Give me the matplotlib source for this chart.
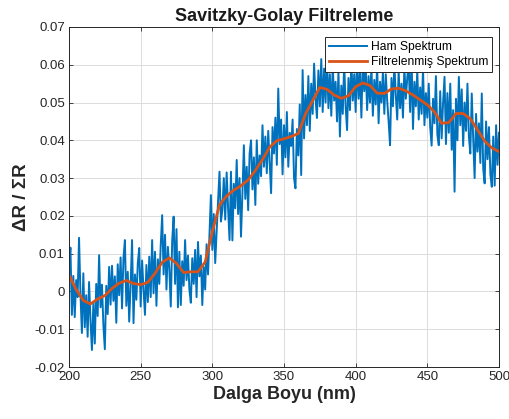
import numpy as np
import matplotlib
matplotlib.use("Agg")
import matplotlib.pyplot as plt

plt.rcParams['font.family'] = ['Liberation Sans', 'DejaVu Sans']

# Raw spectrum, one sample per nm (values x 1e-3)
wavelength = np.arange(200, 501)
ham_milli = [
    7.2, 11.6, -6.2, 4.1, -6.8, 3.0, -1.5, 14.2, -0.8, -11.0,
    4.8, -9.5, -1.0, -12.0, 2.5, -7.8, -15.5, -3.0, -13.8, 2.0,
    -6.5, 9.6, -4.2, 1.8, -9.0, -15.3, 1.5, -6.0, 6.5, -3.5,
    6.8, -2.5, 4.0, -8.3, 7.2, -1.0, 9.0, -4.5, 8.8, 13.6,
    -3.8, 5.2, -8.0, 2.0, 13.6, -8.4, 4.5, -2.2, 7.5, 11.5,
    -4.0, 8.2, 0.5, -6.2, 7.0, -2.8, 9.2, -1.5, 13.6, -0.5,
    10.5, -3.8, 8.5, 2.0, 12.2, 20.2, 4.5, 15.0, 0.5, 11.8,
    6.0, -4.0, 13.5, 19.8, 2.0, 16.5, -4.2, 10.5, -3.6, 8.0,
    1.5, 13.6, 3.0, 9.5, 0.5, -3.0, 8.8, 2.0, 11.0, -1.5,
    13.1, 4.0, 9.5, -3.6, 6.5, 0.5, 12.5, 4.5, 15.0, 25.5,
    11.0, 20.5, 7.5, 16.0, 24.0, 31.7, 18.5, 21.5, 30.0, 19.0,
    31.5, 22.0, 13.6, 31.7, 13.5, 28.5, 22.0, 34.8, 20.5, 30.0,
    14.5, 26.0, 38.7, 24.5, 33.0, 21.5, 36.5, 40.0, 27.0, 35.5,
    22.9, 40.0, 28.5, 36.0, 30.5, 44.0, 33.0, 41.0, 31.3, 42.5,
    34.0, 26.0, 43.5, 36.5, 46.0, 33.5, 53.7, 39.0, 45.5, 31.0,
    44.0, 35.5, 47.5, 33.0, 42.0, 38.5, 45.5, 30.0, 27.3, 43.0,
    36.0, 49.5, 30.8, 58.6, 40.5, 52.0, 44.0, 57.0, 42.5, 55.0,
    47.0, 60.3, 51.0, 45.9, 58.5, 49.0, 61.5, 47.5, 59.0, 50.0,
    62.0, 48.5, 57.5, 46.5, 60.0, 50.5, 55.5, 45.0, 58.5, 41.0,
    54.5, 47.0, 60.5, 49.0, 42.7, 56.5, 48.0, 61.0, 50.5, 57.5,
    47.5, 62.0, 51.0, 58.0, 46.0, 61.5, 53.0, 59.5, 48.0, 57.0,
    50.0, 59.5, 46.5, 56.0, 49.5, 60.0, 44.5, 55.5, 50.0, 58.0,
    47.0, 57.5, 50.5, 45.0, 38.7, 56.5, 49.0, 60.0, 52.0, 45.5,
    58.5, 48.5, 55.0, 46.0, 59.5, 51.0, 56.5, 60.5, 47.5, 62.0,
    43.0, 55.5, 49.0, 58.5, 45.5, 54.0, 47.0, 59.0, 44.0, 52.5,
    46.0, 55.0, 43.5, 38.6, 51.0, 44.5, 57.0, 41.5, 38.7, 53.0,
    40.5, 50.0, 56.8, 39.0, 52.5, 42.0, 55.0, 37.5, 48.0, 26.4,
    51.0, 40.0, 56.8, 44.0, 53.5, 38.5, 50.0, 42.5, 55.0, 41.0,
    36.5, 52.4, 40.5, 30.0, 47.0, 37.0, 44.5, 34.0, 52.4, 32.5,
    28.6, 45.0, 35.0, 43.5, 31.0, 27.7, 41.0, 28.0, 44.0, 33.5,
    42.0,
]

# Savitzky-Golay output, sampled every 5 nm (values x 1e-3)
filt_wavelength = np.arange(200, 501, 5)
filt_milli = [
    4.3, 0.5, -2.4, -3.3, -2.0, -1.1, 0.8, 2.2, 2.9, 2.1,
    1.8, 2.4, 4.8, 7.7, 8.9, 7.4, 5.0, 5.2, 5.2, 7.8,
    15.8, 22.9, 25.3, 26.8, 28.0, 29.5, 32.0, 34.9, 38.2, 39.9,
    40.4, 41.0, 41.8, 47.0, 50.5, 54.0, 53.5, 52.0, 51.1, 51.8,
    54.2, 55.2, 54.5, 52.5, 52.4, 53.6, 53.8, 53.1, 52.0, 50.7,
    49.4, 47.5, 44.5, 44.7, 47.1, 47.1, 45.7, 42.8, 39.8, 38.0,
    37.0,
]

ham = np.array(ham_milli) * 1e-3
filtered = np.array(filt_milli) * 1e-3

fig = plt.figure(figsize=(5.10, 4.19), dpi=100)
ax = fig.add_axes([0.1353, 0.1241, 0.8431, 0.8115])

ax.plot(wavelength, ham, color='#0072BD', linewidth=1.4, label='Ham Spektrum')
ax.plot(filt_wavelength, filtered, color='#D95319', linewidth=2.0,
        label='Filtrelenmiş Spektrum')

ax.set_xlim(200, 500)
ax.set_ylim(-0.02, 0.07)
ax.set_xticks(np.arange(200, 501, 50))
ax.set_yticks(np.arange(-0.02, 0.0701, 0.01))
ax.set_yticklabels(['-0.02', '-0.01', '0', '0.01', '0.02', '0.03',
                    '0.04', '0.05', '0.06', '0.07'])

ax.grid(True, color='#DCDCDC', linewidth=0.7)
ax.set_axisbelow(True)
ax.tick_params(direction='in', length=3, width=0.6, labelsize=9.5,
               colors='#262626', top=True, right=True, labeltop=False,
               labelright=False, pad=3)
for s in ax.spines.values():
    s.set_color('#262626')
    s.set_linewidth(0.7)

ax.set_title('Savitzky-Golay Filtreleme', fontsize=13, fontweight='bold',
             color='#1a1a1a', pad=4)
ax.set_xlabel('Dalga Boyu (nm)', fontsize=13, fontweight='bold',
              color='#262626', labelpad=2)
ax.set_ylabel('ΔR / ΣR', fontsize=13.5, fontweight='bold',
              color='#262626', labelpad=3)

leg = ax.legend(loc='upper right', bbox_to_anchor=(0.984, 0.972),
                fontsize=8.7, frameon=True, fancybox=False, framealpha=1,
                borderpad=0.35, labelspacing=0.25, handlelength=3.1,
                handletextpad=0.3, borderaxespad=0)
leg.get_frame().set_edgecolor('#262626')
leg.get_frame().set_linewidth(0.7)

fig.savefig('out.png', dpi=100)
